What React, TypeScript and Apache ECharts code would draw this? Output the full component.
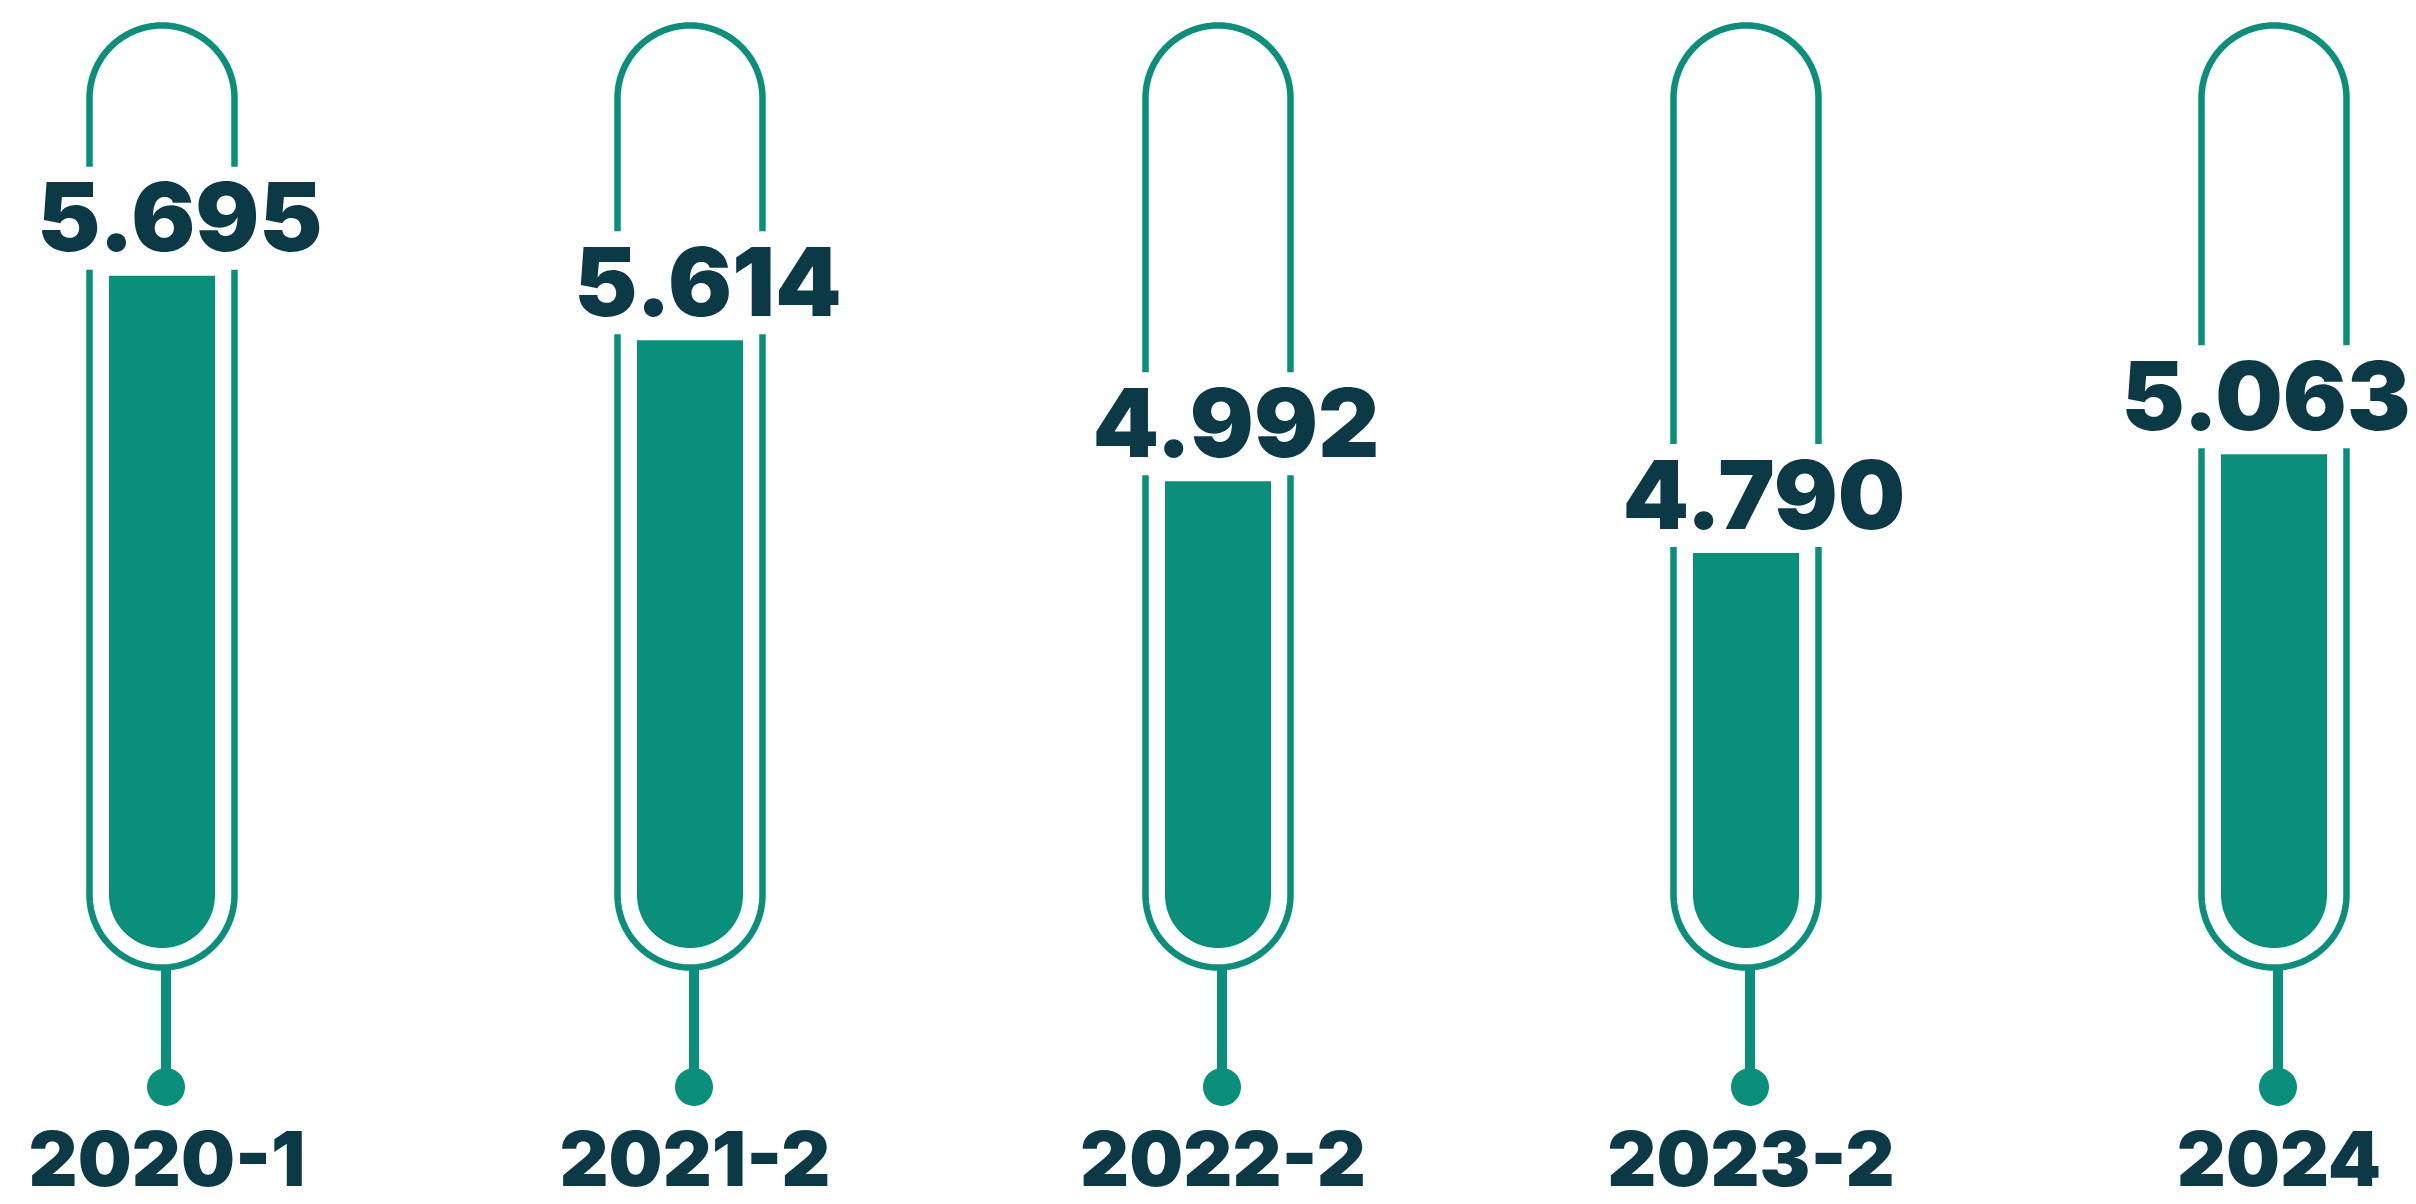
import React, { useEffect, useRef } from "react";
import * as echarts from "echarts";

// Data
const categories = ["2020-1", "2021-2", "2022-2", "2023-2", "2024"];
const values = [5.695, 5.614, 4.992, 4.79, 5.063];
// Fill level of each thermometer tube (% of the straight tube)
const fillLevels = [77.7, 69.6, 51.9, 42.9, 55.3];

const TEAL = "#0A8F7B";
const INK = "#0B3A46";
const FONT = "Inter, 'Noto Sans', sans-serif";

function arcPoints(cx: number, cy: number, r: number, a0: number, a1: number, n = 64) {
  const pts: number[][] = [];
  for (let k = 0; k <= n; k++) {
    const a = a0 + ((a1 - a0) * k) / n;
    pts.push([cx + r * Math.cos(a), cy + r * Math.sin(a)]);
  }
  return pts;
}

export default function App() {
  const ref = useRef<HTMLDivElement>(null);

  useEffect(() => {
    const el = ref.current!;
    const chart = echarts.init(el, null, { renderer: "svg" });
    const W = el.clientWidth;
    const data = categories.map((c, i) => [i, fillLevels[i], values[i]]);

    chart.setOption({
      animation: false,
      grid: { left: 162, right: 142, top: 98, bottom: 309 },
      xAxis: { type: "value", min: 0, max: 4, show: false },
      yAxis: { type: "value", min: 0, max: 100, show: false },
      series: [
        {
          type: "custom",
          clip: false,
          data,
          renderItem: (params: any, api: any) => {
            const i = api.value(0);
            const level = api.value(1);
            const val = api.value(2);
            const [cx, top] = api.coord([i, level]);
            const base = api.coord([i, 0])[1];
            const tubeTop = api.coord([i, 100])[1];
            const band = api.size([1, 0])[0];
            const R = band * 0.1373;
            const r = band * 0.1004;
            const gapBottom = top - 6;
            const gapTop = top - 109;
            const sx = cx + 4;
            const lw = 6.5;
            const stroke = { stroke: TEAL, lineWidth: lw, fill: "none", lineJoin: "round" };

            const upper = [
              [cx - R, gapTop],
              ...arcPoints(cx, tubeTop, R, Math.PI, Math.PI * 2),
              [cx + R, gapTop],
            ];
            const lower = [
              [cx + R, gapBottom],
              ...arcPoints(cx, base, R, 0, Math.PI),
              [cx - R, gapBottom],
            ];
            const fill = [
              [cx - r, top],
              [cx + r, top],
              ...arcPoints(cx, base, r, 0, Math.PI),
            ];

            const labelX = Math.min(cx + 18, W - 150);

            return {
              type: "group",
              children: [
                { type: "polyline", shape: { points: upper }, style: stroke },
                { type: "polyline", shape: { points: lower }, style: stroke },
                { type: "polygon", shape: { points: fill }, style: { fill: TEAL } },
                {
                  type: "line",
                  shape: { x1: sx, y1: base + R, x2: sx, y2: base + 190 },
                  style: { stroke: TEAL, lineWidth: 10 },
                },
                {
                  type: "circle",
                  shape: { cx: sx, cy: base + 192, r: 19 },
                  style: { fill: TEAL },
                },
                {
                  type: "text",
                  style: {
                    text: val.toFixed(3),
                    x: labelX,
                    y: top - 59,
                    align: "center",
                    verticalAlign: "middle",
                    fontFamily: FONT,
                    fontWeight: 900,
                    fontSize: 95,
                    fill: INK,
                  },
                },
                {
                  type: "text",
                  style: {
                    text: categories[i],
                    x: cx + 5,
                    y: base + 263,
                    align: "center",
                    verticalAlign: "middle",
                    fontFamily: FONT,
                    fontWeight: 900,
                    fontSize: 76,
                    fill: INK,
                  },
                },
              ],
            };
          },
        },
      ],
    });

    return () => chart.dispose();
  }, []);

  return (
    <div
      ref={ref}
      style={{ position: "fixed", left: 0, top: 0, width: 2416, height: 1204 }}
    />
  );
}
